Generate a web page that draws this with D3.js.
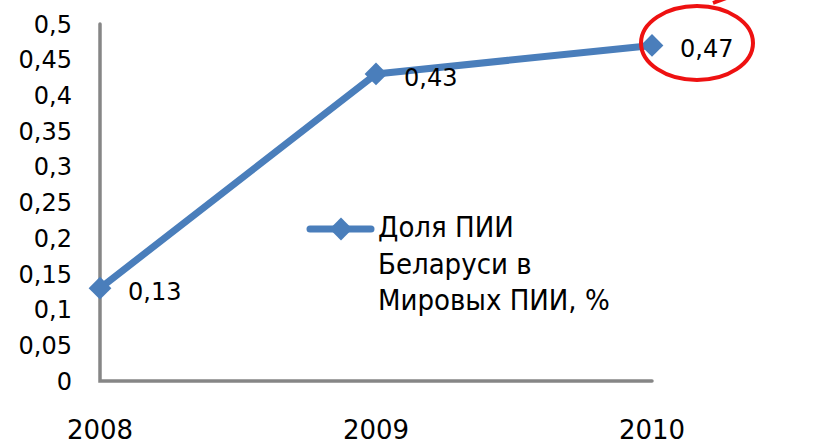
<!DOCTYPE html>
<meta charset="utf-8">
<script src="https://d3js.org/d3.v7.min.js"></script>
<style>
  body { margin: 0; background: #fff; }
  text { font-family: "DejaVu Sans", sans-serif; fill: #000; }
</style>
<body>
<div id="chart"></div>
<script>
// data
var years = ["2008", "2009", "2010"];
var values = [0.13, 0.43, 0.47];
var yTicks = [0, 0.05, 0.1, 0.15, 0.2, 0.25, 0.3, 0.35, 0.4, 0.45, 0.5];
var legendLines = ["Доля ПИИ", "Беларуси в", "Мировых ПИИ, %"];

var width = 819, height = 445;
var blue = "#4a7ebb";

var svg = d3.select("#chart").append("svg")
    .attr("width", width)
    .attr("height", height)
    .style("display", "block");

var x = d3.scalePoint().domain(years).range([100, 652]);
var y = d3.scaleLinear().domain([0, 0.5]).range([381, 24]);

var fmt = function(v) { return String(+v.toFixed(2)).replace(".", ","); };

// y tick labels
svg.append("g").selectAll("text")
    .data(yTicks)
    .enter().append("text")
    .attr("x", 72)
    .attr("y", function(d) { return y(d); })
    .attr("dy", "0.36em")
    .attr("text-anchor", "end")
    .style("font-size", "24px")
    .text(fmt);

// x labels
svg.append("g").selectAll("text")
    .data(years)
    .enter().append("text")
    .attr("x", function(d) { return x(d); })
    .attr("y", 439)
    .attr("text-anchor", "middle")
    .style("font-size", "26px")
    .text(function(d) { return d; });

// axes lines
svg.append("path")
    .attr("d", "M" + x(years[0]) + "," + y(0.5) + "V" + y(0) + "H" + x(years[2]))
    .attr("fill", "none")
    .attr("stroke", "#868686")
    .attr("stroke-width", 3.5)
    .attr("stroke-linecap", "round");

// line
var line = d3.line()
    .x(function(d, i) { return x(years[i]); })
    .y(function(d) { return y(d); });

svg.append("path")
    .datum(values)
    .attr("d", line)
    .attr("fill", "none")
    .attr("stroke", blue)
    .attr("stroke-width", 7)
    .attr("stroke-linejoin", "round");

var diamond = d3.symbol().type(d3.symbolDiamond2).size(330);

svg.append("g").selectAll("path")
    .data(values)
    .enter().append("path")
    .attr("d", diamond)
    .attr("transform", function(d, i) { return "translate(" + x(years[i]) + "," + y(d) + ")"; })
    .attr("fill", blue);

// data labels
svg.append("g").selectAll("text")
    .data(values)
    .enter().append("text")
    .attr("x", function(d, i) { return x(years[i]) + 28; })
    .attr("y", function(d) { return y(d) + 3; })
    .attr("dy", "0.36em")
    .style("font-size", "24px")
    .text(fmt);

// legend
var lg = svg.append("g");
lg.append("line")
    .attr("x1", 310).attr("x2", 371)
    .attr("y1", 229).attr("y2", 229)
    .attr("stroke", blue)
    .attr("stroke-width", 7)
    .attr("stroke-linecap", "round");
lg.append("path")
    .attr("d", diamond)
    .attr("transform", "translate(341,229)")
    .attr("fill", blue);
lg.selectAll("text")
    .data(legendLines)
    .enter().append("text")
    .attr("x", 378)
    .attr("y", function(d, i) { return 237 + i * 36.5; })
    .style("font-family", "'DejaVu Sans Condensed', 'DejaVu Sans', sans-serif")
    .style("font-stretch", "condensed")
    .style("font-size", "29px")
    .text(function(d) { return d; });

// red highlight
svg.append("ellipse")
    .attr("cx", 697).attr("cy", 43)
    .attr("rx", 56).attr("ry", 37)
    .attr("fill", "none")
    .attr("stroke", "#ee1111")
    .attr("stroke-width", 4);
svg.append("line")
    .attr("x1", 713).attr("y1", 3)
    .attr("x2", 729).attr("y2", -3)
    .attr("stroke", "#ee1111")
    .attr("stroke-width", 4);
</script>
</body>
